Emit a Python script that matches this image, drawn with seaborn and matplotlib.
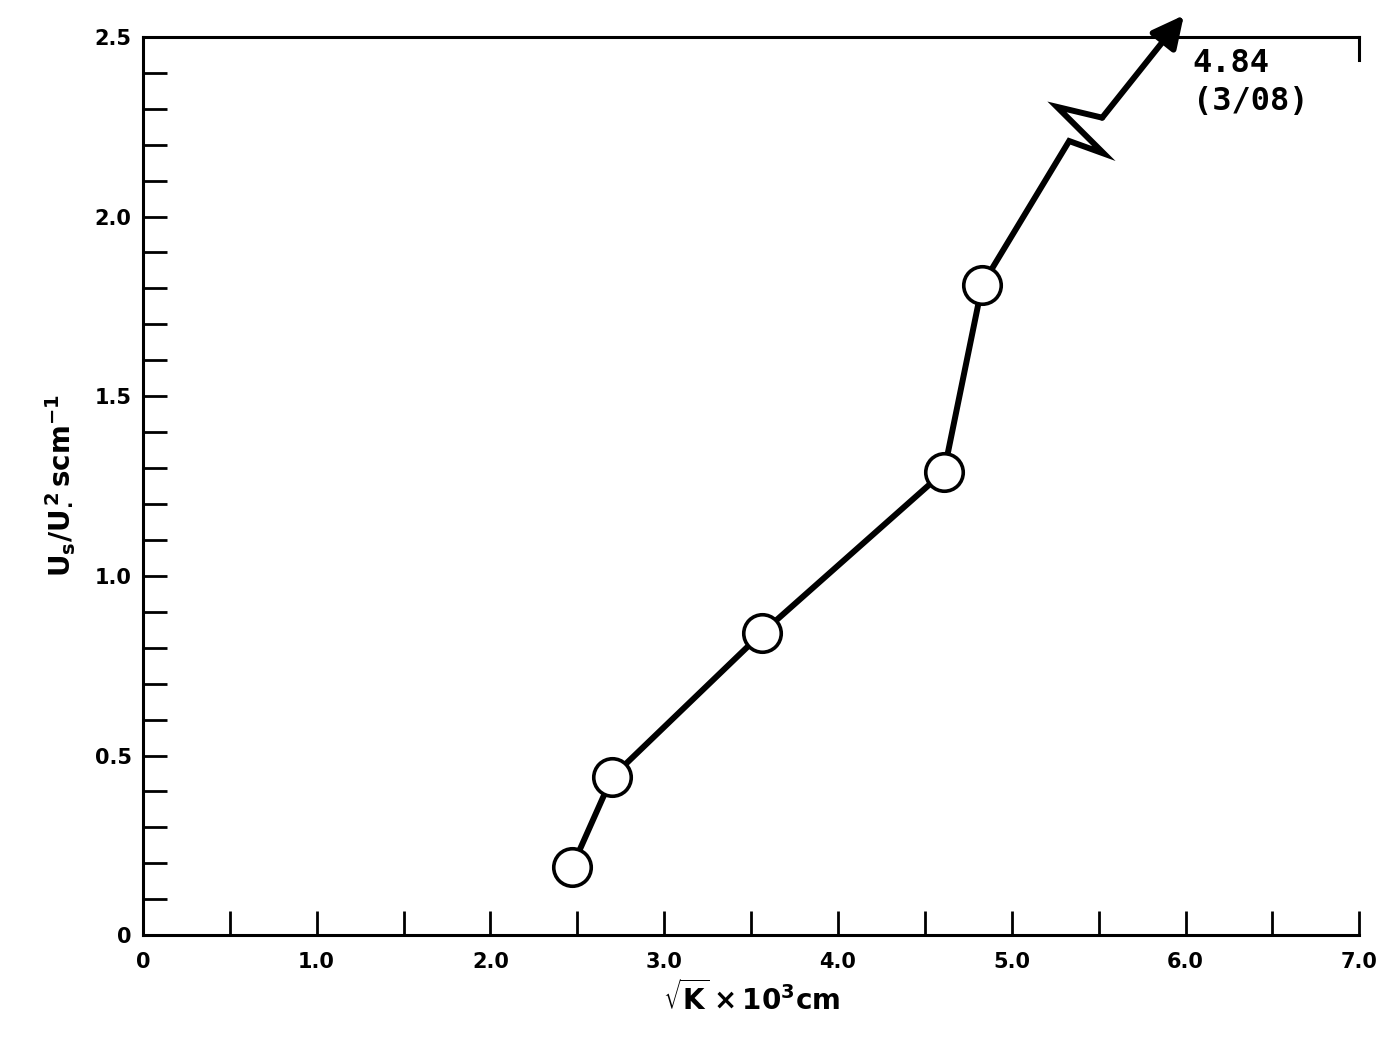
import numpy as np
import pandas as pd
import matplotlib.pyplot as plt
import seaborn as sns

# --- data ---
sqrt_k = [2.47, 2.70, 3.56, 4.61, 4.83]
us_ratio = [0.19, 0.44, 0.84, 1.29, 1.81]

# off-scale point (4.84 at sqrt K = 3/08), shown as broken arrow
off_label = "4.84\n(3/08)"
break_x = [4.83, 5.33, 5.53, 5.26, 5.52]
break_y = [1.81, 2.21, 2.175, 2.305, 2.275]
arrow_tip = (5.99, 2.56)

x_major = [0, 1, 2, 3, 4, 5, 6, 7]
x_labels = ["0", "1.0", "2.0", "3.0", "4.0", "5.0", "6.0", "7.0"]
y_major = [0, 0.5, 1.0, 1.5, 2.0, 2.5]
y_labels = ["0", "0.5", "1.0", "1.5", "2.0", "2.5"]

df = pd.DataFrame({'x': sqrt_k, 'y': us_ratio})

sns.set_style("ticks")
plt.rcParams['font.family'] = ['DejaVu Sans']
plt.rcParams['mathtext.default'] = 'bf'
plt.rcParams['text.color'] = 'black'
plt.rcParams['axes.labelcolor'] = 'black'
plt.rcParams['xtick.color'] = 'black'
plt.rcParams['ytick.color'] = 'black'

fig = plt.figure(figsize=(14, 10.52), dpi=100)
ax = fig.add_axes([0.102, 0.111, 0.869, 0.854])

# broken continuation towards the off-scale value
ax.plot(break_x, break_y, color='black', lw=4.3, solid_joinstyle='miter', zorder=2)
ax.annotate('', xy=arrow_tip, xytext=(break_x[-1], break_y[-1]),
            arrowprops=dict(arrowstyle='-|>', color='black', lw=4.3,
                            mutation_scale=48, shrinkA=0, shrinkB=0),
            annotation_clip=False, zorder=2)

sns.lineplot(data=df, x='x', y='y', ax=ax, color='black', lw=4.3,
             marker='o', markersize=27, markerfacecolor='white',
             markeredgecolor='black', markeredgewidth=2.6, zorder=3)

ax.text(6.04, 2.47, off_label, fontsize=23, fontweight='bold',
        va='top', ha='left', linespacing=1.3, family='DejaVu Sans Mono')

ax.set_xlim(0, 7)
ax.set_ylim(0, 2.5)

ax.set_xticks(x_major)
ax.set_xticklabels(x_labels)
ax.set_xticks(np.arange(0.5, 7, 1.0), minor=True)
ax.set_yticks(y_major)
ax.set_yticklabels(y_labels)
ax.set_yticks(np.arange(0.1, 2.5, 0.1), minor=True)

ax.tick_params(axis='both', which='both', direction='in', length=17,
               width=2, color='black', labelsize=15, pad=8)
ax.tick_params(axis='x', which='both', pad=12)
for lab in ax.get_xticklabels() + ax.get_yticklabels():
    lab.set_fontweight('bold')

for side in ['left', 'bottom', 'top', 'right']:
    ax.spines[side].set_linewidth(2.2)
    ax.spines[side].set_color('black')
ax.spines['right'].set_bounds(2.435, 2.5)

ax.set_xlabel(r'$\sqrt{K}\times10^3$cm', fontsize=20, fontweight='bold', labelpad=6)
ax.set_ylabel(r'$U_s/U_{\bullet}^{\,2}\,scm^{-1}$', fontsize=20, fontweight='bold', labelpad=14)

plt.savefig('out.png', dpi=100)
